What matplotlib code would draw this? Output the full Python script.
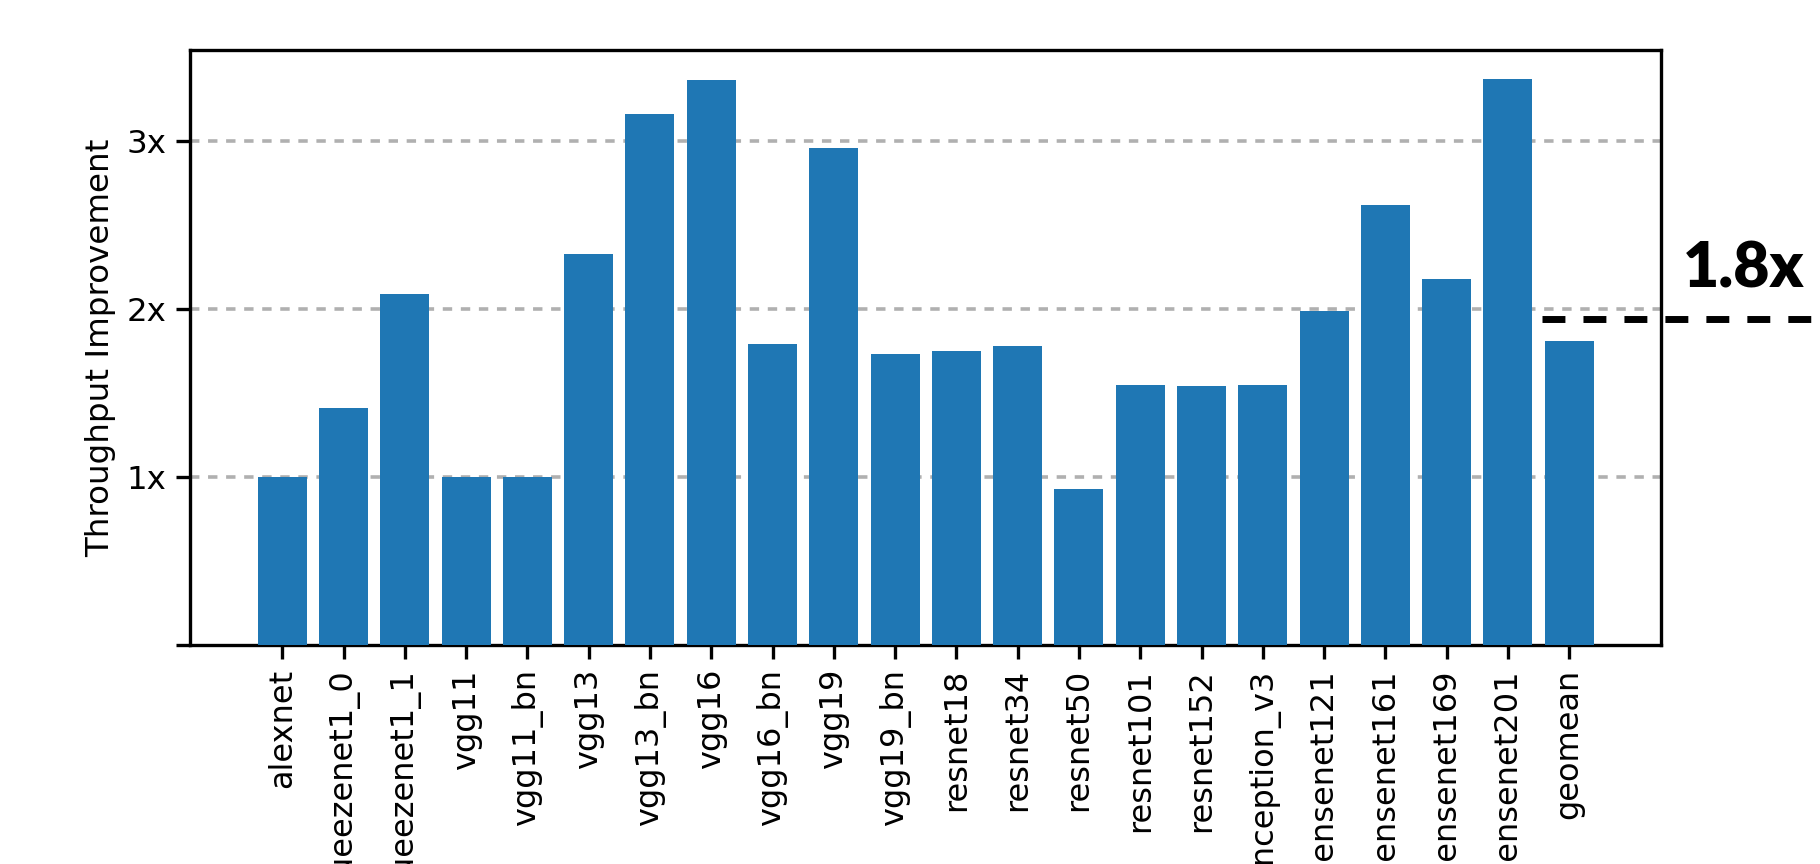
import matplotlib
matplotlib.use("Agg")
import matplotlib.pyplot as plt
import numpy as np

# per-model throughput improvement
models = ["alexnet", "squeezenet1_0", "squeezenet1_1", "vgg11", "vgg11_bn",
          "vgg13", "vgg13_bn", "vgg16", "vgg16_bn", "vgg19", "vgg19_bn",
          "resnet18", "resnet34", "resnet50", "resnet101", "resnet152",
          "inception_v3", "densenet121", "densenet161", "densenet169",
          "densenet201", "geomean"]
speedup = [1.00, 1.41, 2.09, 1.00, 1.00, 2.33, 3.16, 3.36, 1.79, 2.96, 1.73,
           1.75, 1.78, 0.93, 1.55, 1.54, 1.55, 1.99, 2.62, 2.18, 3.37, 1.81]
yticks = [1, 2, 3]
ytick_labels = ["1x", "2x", "3x"]
avg_level = 1.94
avg_label = "1.8x"

fig = plt.figure(figsize=(9.1, 4.32), dpi=200)
ax = fig.add_axes([0.1046, 0.253, 0.8081, 0.689])

x = np.arange(len(models))
ax.bar(x, speedup, width=0.8, color="#1f77b4", zorder=3)

ax.set_xlim(-1.5, 22.5)
ax.set_ylim(0, 3.54)
ax.set_xticks(x)
ax.set_xticklabels(models, rotation=90, fontsize=11.5)
ax.set_yticks([0] + yticks)
ax.set_yticklabels([""] + ytick_labels, fontsize=11.7)
ax.set_ylabel("Throughput Improvement", fontsize=11.7)
ax.tick_params(axis="both", length=5, width=1.2)
for s in ax.spines.values():
    s.set_linewidth(1.2)

for y in yticks:
    ax.axhline(y, color="#b0b0b0", lw=1.3, linestyle=(0, (2.6, 2.4)), zorder=1)

# dashed marker running off the right of the axes
ax.plot([20.55, 25.0], [avg_level, avg_level], color="black", lw=2.5,
        linestyle=(0, (3.3, 2.6)), clip_on=False, zorder=4)
ax.text(23.84, 2.13, avg_label, ha="center", va="baseline", fontsize=22.5,
        fontweight="heavy", family="Lato", clip_on=False)

fig.savefig("out.png", dpi=200)
